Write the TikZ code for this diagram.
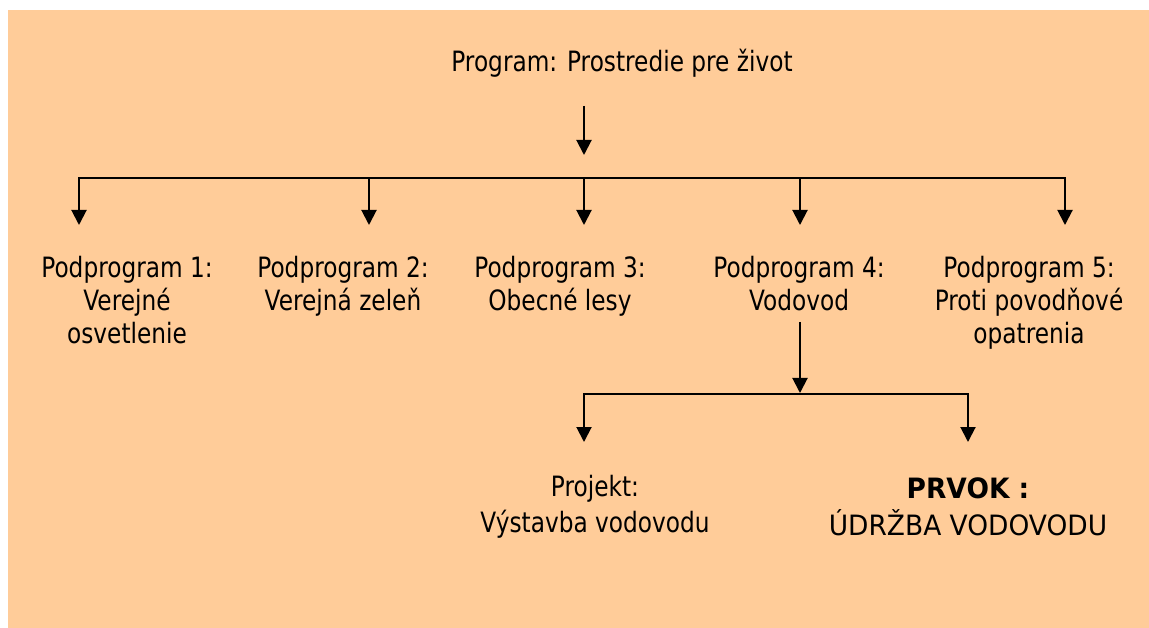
\documentclass[tikz,border=0pt]{standalone}
\usepackage{fontspec}
\setmainfont{DejaVu Sans}[FakeStretch=0.83]
\newfontfamily\wideff{DejaVu Sans}[FakeStretch=0.945]
\usetikzlibrary{arrows.meta}
\definecolor{peach}{HTML}{FFCC99}
\begin{document}
\begin{tikzpicture}[x=1pt,y=-1pt,
  lbl/.style={anchor=base,inner sep=0pt,font=\fontsize{28}{33}\selectfont},
  widelbl/.style={anchor=base,inner sep=0pt,font=\fontsize{28}{33}\selectfont\wideff},
  boldlbl/.style={anchor=base,inner sep=0pt,font=\fontsize{28}{33}\selectfont\wideff\bfseries},
  conn/.style={line width=2pt,-{Triangle[width=15pt,length=15pt]}},
  bar/.style={line width=2pt,{Triangle[width=15pt,length=15pt]}-{Triangle[width=15pt,length=15pt]}}]
\useasboundingbox (0,0) rectangle (1149,628);
\fill[peach] (8,10) rectangle (1149,628);
% title
\node[lbl] (title) at (622,72) {Program: Prostredie pre život};
\coordinate (ts) at (584,106);
\coordinate (tt) at (584,155);
\draw[conn] (ts) -- (tt);
% level 1 bar
\coordinate (b1) at (79,178);
\coordinate (b2) at (369,178);
\coordinate (b3) at (584,178);
\coordinate (b4) at (800,178);
\coordinate (b5) at (1065,178);
\coordinate (d1) at (79,225);
\coordinate (d2) at (369,225);
\coordinate (d3) at (584,225);
\coordinate (d4) at (800,225);
\coordinate (d5) at (1065,225);
\draw[bar] (d1) -- (b1) -- (b5) -- (d5);
\draw[conn] (b2) -- (d2);
\draw[conn] (b3) -- (d3);
\draw[conn] (b4) -- (d4);
% level 1 labels
\node[lbl] (p1a) at (127,278) {Podprogram 1:};
\node[lbl] (p1b) at (127,311) {Verejné};
\node[lbl] (p1c) at (127,344) {osvetlenie};
\node[lbl] (p2a) at (343,278) {Podprogram 2:};
\node[lbl] (p2b) at (343,311) {Verejná zeleň};
\node[lbl] (p3a) at (560,278) {Podprogram 3:};
\node[lbl] (p3b) at (560,311) {Obecné lesy};
\node[lbl] (p4a) at (799,278) {Podprogram 4:};
\node[lbl] (p4b) at (799,311) {Vodovod};
\node[lbl] (p5a) at (1029,278) {Podprogram 5:};
\node[lbl] (p5b) at (1029,311) {Proti povodňové};
\node[lbl] (p5c) at (1029,344) {opatrenia};
% level 2
\coordinate (vs) at (800,322);
\coordinate (vt) at (800,393);
\draw[conn] (vs) -- (vt);
\coordinate (c1) at (584,394);
\coordinate (c2) at (968,394);
\coordinate (e1) at (584,442);
\coordinate (e2) at (968,442);
\draw[bar] (e1) -- (c1) -- (c2) -- (e2);
\node[lbl] (pra) at (595,496) {Projekt:};
\node[lbl] (prb) at (595,532) {Výstavba vodovodu};
\node[boldlbl] (pva) at (968,498) {PRVOK :};
\node[widelbl] (pvb) at (968,535) {ÚDRŽBA VODOVODU};
\end{tikzpicture}
\end{document}
